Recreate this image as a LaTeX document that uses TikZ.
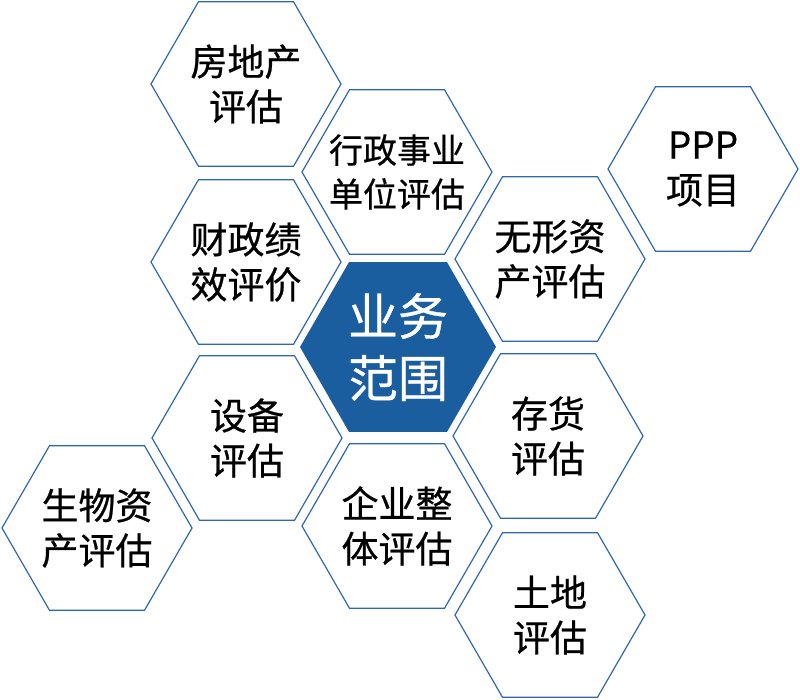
\documentclass[tikz,border=0pt]{standalone}
\usepackage{fontspec}
\newfontfamily\cjk[FakeBold=0.6]{Noto Sans CJK SC}
\usetikzlibrary{shapes.geometric}
\definecolor{hexline}{RGB}{46,104,172}
\definecolor{hexfill}{RGB}{27,94,160}
\begin{document}
\begin{tikzpicture}[x=1pt,y=-1pt,
  hexbox/.style={regular polygon, regular polygon sides=6, minimum size=190pt,
    inner sep=0pt, draw=hexline, line width=1.2pt},
  hextext/.style={align=center, font=\cjk\fontsize{37}{45}\selectfont, text=black, inner sep=0pt},
  smalltext/.style={hextext, font=\cjk\fontsize{34}{44}\selectfont},
  coretext/.style={hextext, text=white, font=\cjk\fontsize{50}{62}\selectfont},
  corebox/.style={hexbox, minimum size=196pt, fill=hexfill, draw=none}]
\useasboundingbox (0,0) rectangle (800,700);
\node[hexbox, label={[hextext]center:房地产\\评估}]     (fdc)  at (246,84)  {};
\node[hexbox, label={[smalltext]center:行政事业\\单位评估}] (xz) at (397,172) {};
\node[hexbox, label={[hextext]center:PPP\\项目}]        (ppp)  at (703,169) {};
\node[hexbox, label={[hextext]center:财政绩\\效评价}]    (cz)   at (246,262) {};
\node[hexbox, label={[hextext]center:无形资\\产评估}]    (wx)   at (550,259) {};
\node[corebox, label={[coretext]center:业务\\范围}]     (core) at (398,347) {};
\node[hexbox, label={[hextext]center:设备\\评估}]       (sb)   at (247,438) {};
\node[hexbox, label={[hextext]center:存货\\评估}]       (ch)   at (548,436) {};
\node[hexbox, label={[hextext]center:生物资\\产评估}]    (sw)   at (97,528)  {};
\node[hexbox, label={[hextext]center:企业整\\体评估}]    (qy)   at (397,526) {};
\node[hexbox, label={[hextext]center:土地\\评估}]       (td)   at (550,615) {};
\end{tikzpicture}
\end{document}
